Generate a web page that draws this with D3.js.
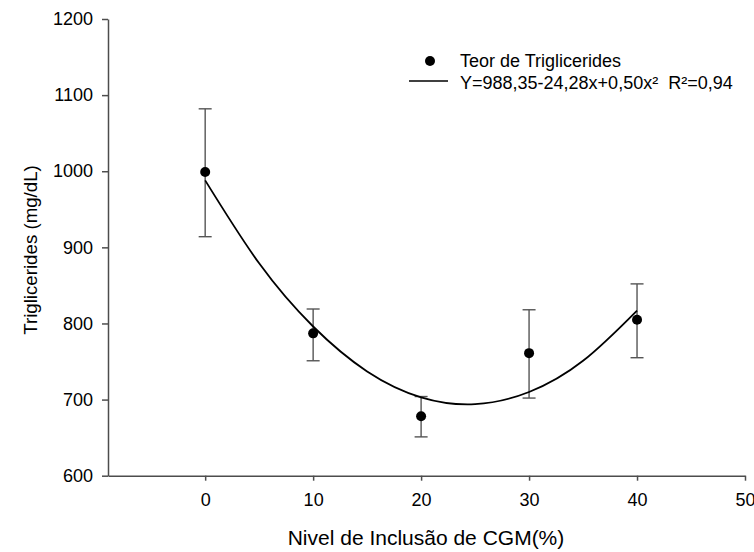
<!DOCTYPE html>
<html lang="pt">
<head>
<meta charset="UTF-8">
<title>Triglicerides</title>
<script src="https://d3js.org/d3.v7.min.js"></script>
<style>
  body { margin: 0; background: #fff; }
  svg text { font-family: "Liberation Sans", Arial, sans-serif; fill: #000; }
</style>
</head>
<body>
<svg id="canvas" width="754" height="552"></svg>
<script>
// nivel de inclusao (%) e teor medio com limites do erro
const levels = [0, 10, 20, 30, 40];
const means  = [999, 787, 678, 761, 805];
const upper  = [1082, 819, 704, 818, 852];
const lower  = [914, 751, 651, 702, 755];

// curva ajustada
const fitX = [0, 5, 10, 15, 20, 25, 30, 35, 40];
const fitY = [988, 879, 796, 737, 703, 694, 710, 751, 817];

const xTicks = [0, 10, 20, 30, 40, 50];
const yTicks = [600, 700, 800, 900, 1000, 1100, 1200];

const svg = d3.select('#canvas');

let x = d3.scaleLinear().domain([-9, 50]).range([108, 745]);
let y = d3.scaleLinear().domain([600, 1200]).range([475.7, 19]);

const axisColor = '#4d4d4d';

// eixo x
let gx = svg.append('g')
    .attr('transform', 'translate(0,475.7)')
    .call(d3.axisBottom(x).tickValues(xTicks).tickFormat(d3.format('d'))
        .tickSize(5).tickPadding(13).tickSizeOuter(0));
// eixo y
let gy = svg.append('g')
    .attr('transform', 'translate(108,0)')
    .call(d3.axisLeft(y).tickValues(yTicks).tickFormat(d3.format('d'))
        .tickSize(6).tickPadding(9).tickSizeOuter(0));

[gx, gy].forEach(g => {
    g.attr('font-family', null).attr('font-size', null);
    g.select('.domain').attr('stroke', axisColor).attr('stroke-width', 1.5);
    g.selectAll('.tick line').attr('stroke', axisColor).attr('stroke-width', 1.5);
    g.selectAll('.tick text').style('font-size', '18px').attr('fill', '#000');
});

// titulos
svg.append('text')
    .attr('x', 426).attr('y', 545)
    .attr('text-anchor', 'middle')
    .style('font-size', '21px')
    .text('Nivel de Inclusão de CGM(%)');

svg.append('text')
    .attr('transform', 'translate(37,250) rotate(-90)')
    .attr('text-anchor', 'middle')
    .style('font-size', '18.7px')
    .text('Triglicerides (mg/dL)');

// barras de erro
let eb = svg.append('g').attr('stroke', '#555').attr('stroke-width', 1.4);
levels.forEach((l, i) => {
    eb.append('line')
        .attr('x1', x(l)).attr('x2', x(l))
        .attr('y1', y(upper[i])).attr('y2', y(lower[i]));
    [upper[i], lower[i]].forEach(v => {
        eb.append('line')
            .attr('x1', x(l) - 6.5).attr('x2', x(l) + 6.5)
            .attr('y1', y(v)).attr('y2', y(v));
    });
});

// curva
let line = d3.line()
    .x((d, i) => x(fitX[i]))
    .y(d => y(d))
    .curve(d3.curveNatural);
svg.append('path')
    .datum(fitY)
    .attr('d', line)
    .attr('fill', 'none')
    .attr('stroke', '#000')
    .attr('stroke-width', 1.8);

// pontos
svg.append('g').selectAll('circle')
    .data(means)
    .join('circle')
    .attr('cx', (d, i) => x(levels[i]))
    .attr('cy', d => y(d))
    .attr('r', 5)
    .attr('fill', '#000');

// legenda
let leg = svg.append('g');
leg.append('circle').attr('cx', 430).attr('cy', 61).attr('r', 5).attr('fill', '#000');
leg.append('text').attr('x', 460).attr('y', 66.5).style('font-size', '18px')
    .text('Teor de Triglicerides');
leg.append('line').attr('x1', 409).attr('x2', 448).attr('y1', 81).attr('y2', 81)
    .attr('stroke', '#000').attr('stroke-width', 1.5);
leg.append('text').attr('x', 460).attr('y', 89).style('font-size', '18px')
    .attr('xml:space', 'preserve')
    .text('Y=988,35-24,28x+0,50x²  R²=0,94');
</script>
</body>
</html>
